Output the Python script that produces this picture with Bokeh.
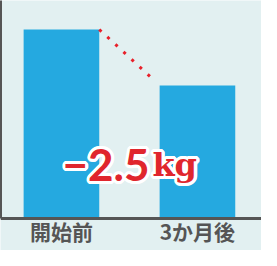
import math
from bokeh.plotting import figure
from bokeh.models import Range1d, FixedTicker, Label
from bokeh.embed import file_html
from bokeh.resources import INLINE

categories = ["開始前", "3か月後"]
weights = [60.0, 57.5]
change_label_num = "−2.5"
change_label_unit = "kg"

BG = "#e2f0f1"
BAR = "#25a9e0"
AXIS = "#555555"
RED = "#e0262d"

xs = list(range(len(categories)))
baseline = 51.5625
y_lo, y_hi = 50.13, 61.295
bar_w = 0.556

p = figure(width=261, height=250, output_backend="svg", toolbar_location=None,
           x_range=Range1d(-0.448, 1.471), y_range=Range1d(y_lo, y_hi),
           min_border_left=0, min_border_right=0, min_border_top=0, min_border_bottom=0)
p.background_fill_color = BG
p.border_fill_color = BG
p.outline_line_color = None
p.grid.visible = False

p.vbar(x=xs, top=weights, bottom=baseline, width=bar_w, color=BAR, line_color=None)

# dotted connector
x0 = xs[0] + bar_w / 2
x1 = xs[1] - bar_w / 2 - 0.03
y0 = weights[0]
y1 = weights[1] + (weights[0] - weights[1]) * 0.07
p.line([x0, x1], [y0, y1], line_color="#e8202a", line_width=3, line_dash="3 8")

# axes
p.xaxis.fixed_location = baseline
p.xaxis.ticker = FixedTicker(ticks=xs)
p.xaxis.major_label_overrides = {i: c for i, c in zip(xs, categories)}
p.xaxis.major_tick_line_color = None
p.xaxis.minor_tick_line_color = None
p.xaxis.major_tick_in = 0
p.xaxis.major_tick_out = 0
p.xaxis.axis_line_color = AXIS
p.xaxis.axis_line_width = 3
p.xaxis.major_label_text_font = "Noto Sans CJK JP"
p.xaxis.major_label_text_font_style = "bold"
p.xaxis.major_label_text_font_size = "21px"
p.xaxis.major_label_text_color = AXIS
p.xaxis.major_label_standoff = -2

p.yaxis.ticker = FixedTicker(ticks=[])
p.yaxis.bounds = (baseline, y_hi)
p.yaxis.major_tick_line_color = None
p.yaxis.minor_tick_line_color = None
p.yaxis.major_tick_in = 0
p.yaxis.major_tick_out = 0
p.yaxis.major_label_text_font_size = "0px"
p.yaxis.axis_line_color = AXIS
p.yaxis.axis_line_width = 3

# change annotation with white outline
xm = (xs[0] + xs[1]) / 2
ty = 53.95
offsets = [(3 * math.cos(a * math.pi / 8), 3 * math.sin(a * math.pi / 8)) for a in range(16)]
for color, offs in (("white", offsets), (RED, [(0, 0)])):
    for dx, dy in offs:
        p.add_layout(Label(x=xm, y=ty, x_offset=20 + dx, y_offset=dy, text=change_label_num,
                           text_align="right", text_baseline="alphabetic",
                           text_font="Lato", text_font_style="bold", text_font_size="44px",
                           text_color=color))
        p.add_layout(Label(x=xm, y=ty, x_offset=23 + dx, y_offset=dy, text=change_label_unit,
                           text_align="left", text_baseline="alphabetic",
                           text_font="DejaVu Serif", text_font_style="bold", text_font_size="32px",
                           text_color=color))

open("out.html", "w").write(file_html(p, INLINE))
